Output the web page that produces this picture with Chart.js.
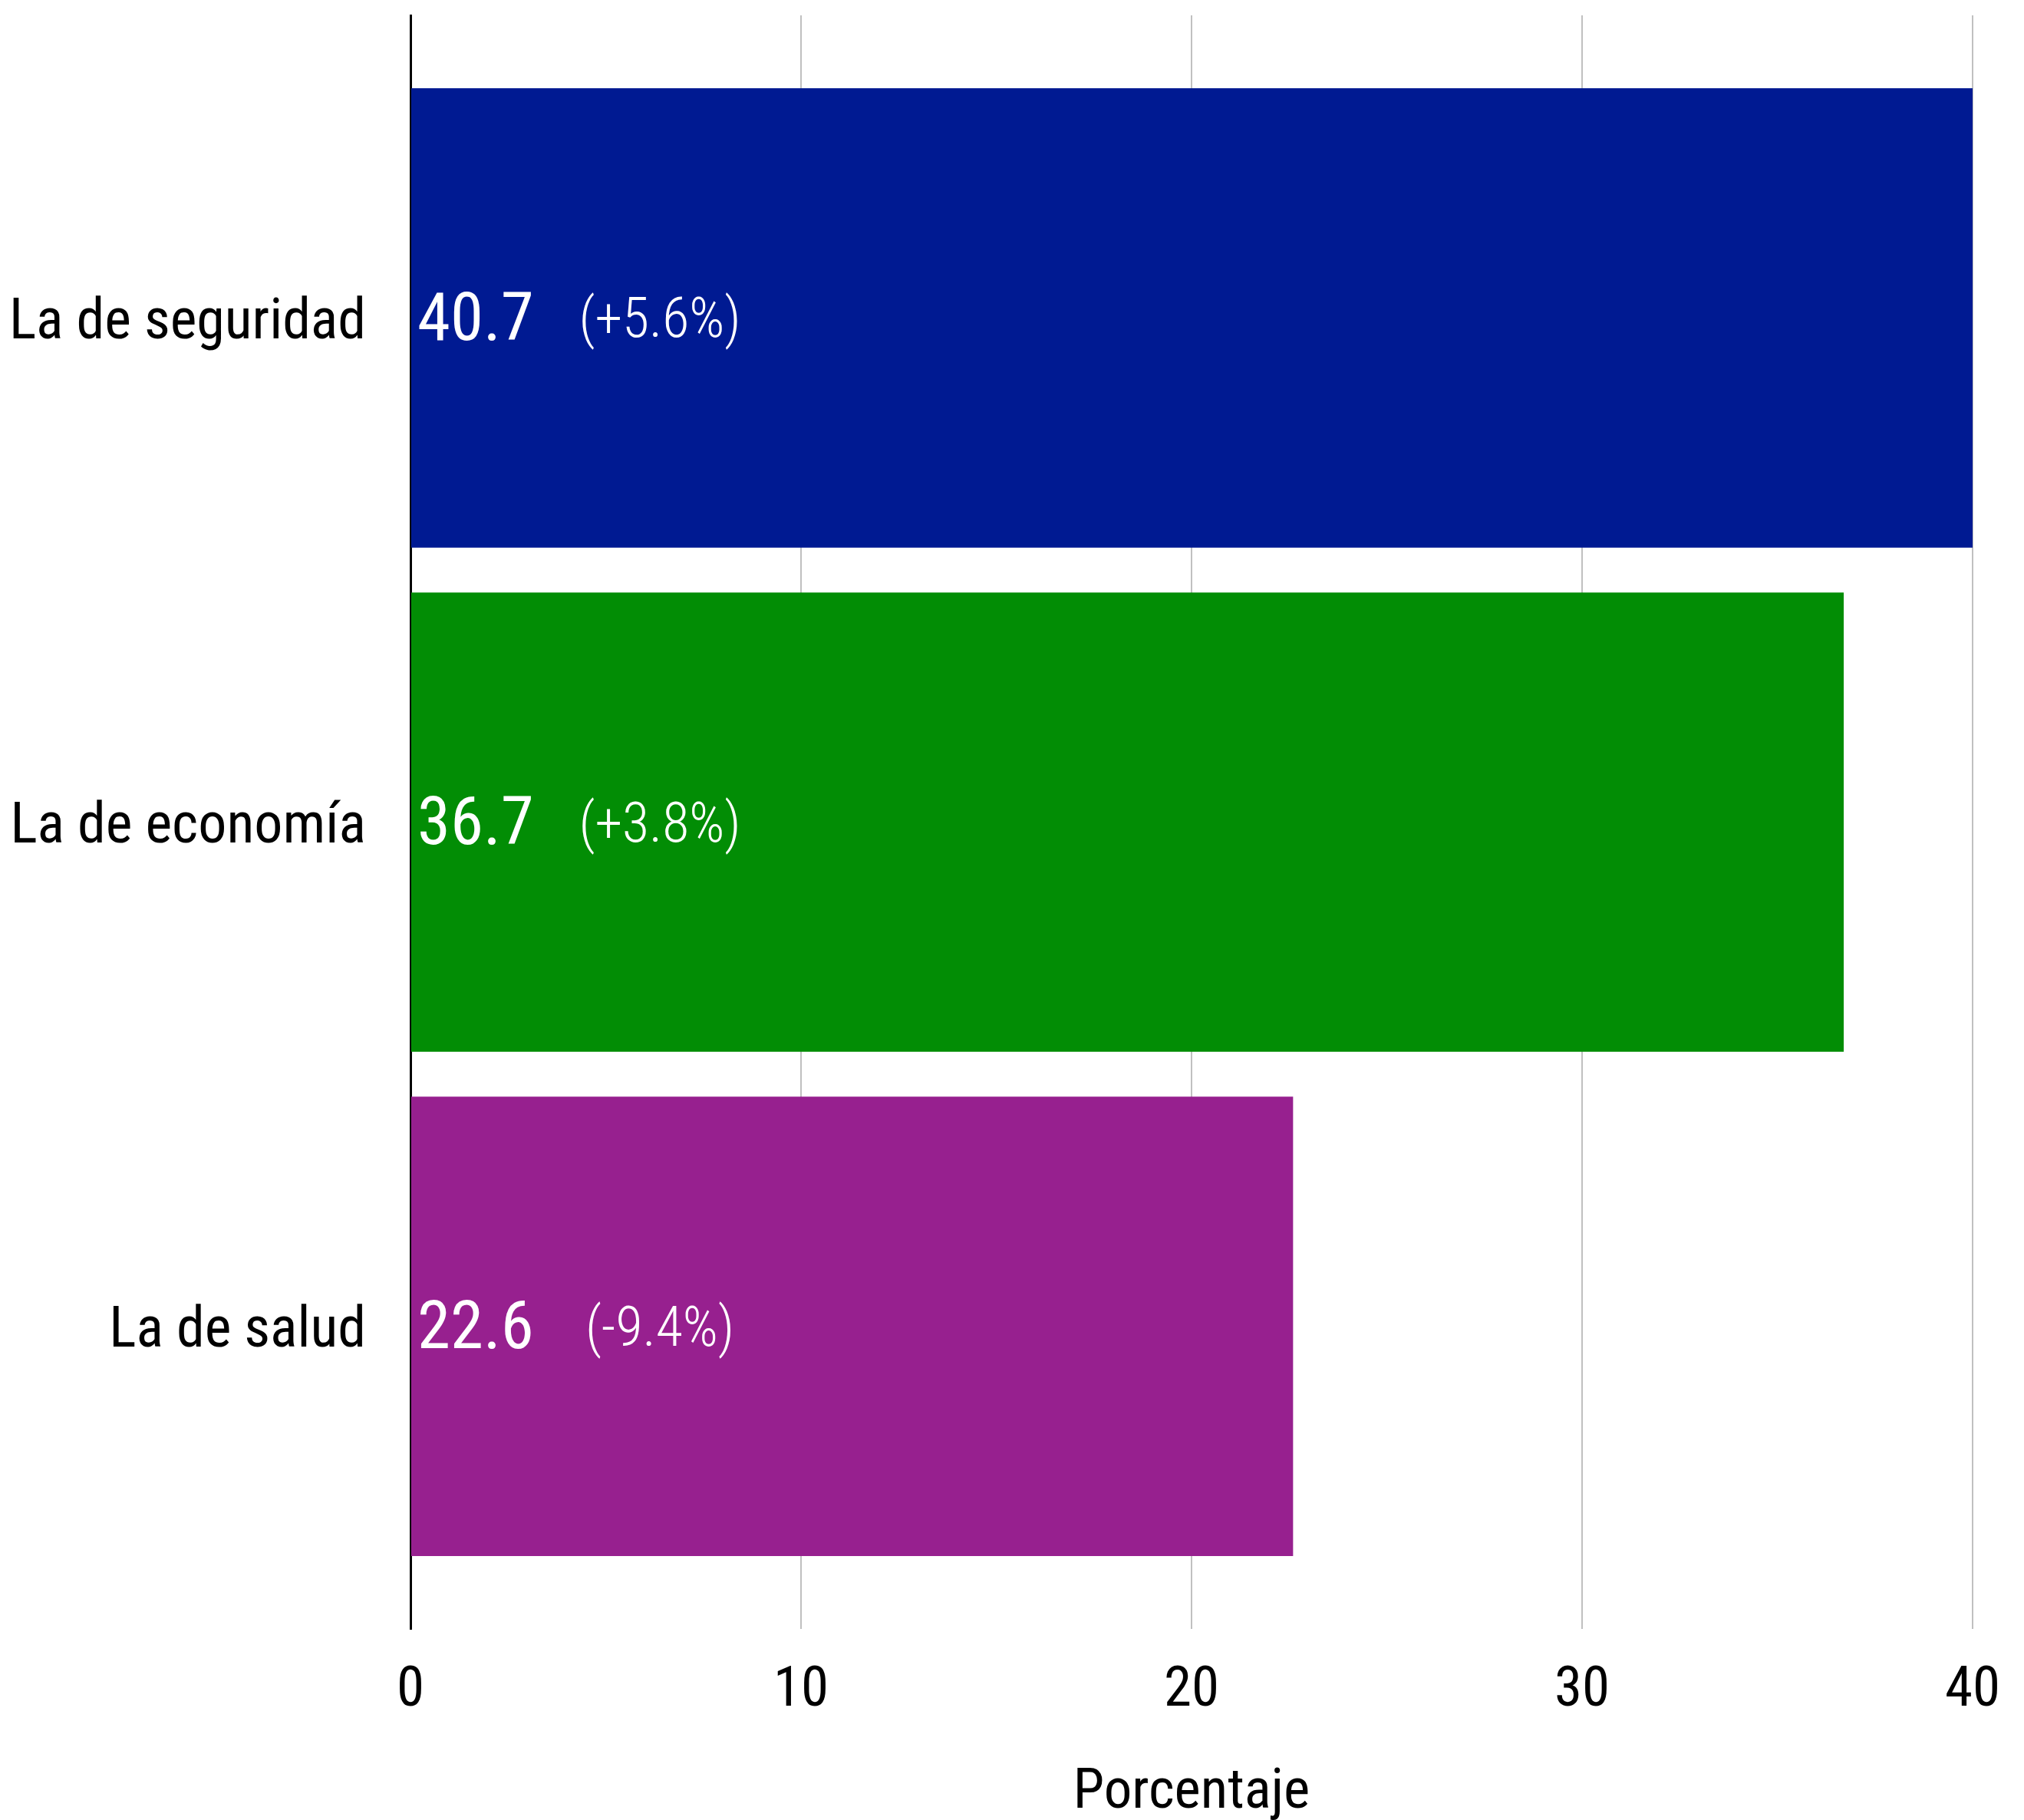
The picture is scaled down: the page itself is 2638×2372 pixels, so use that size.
<!DOCTYPE html>
<html>
<head>
<meta charset="utf-8">
<script src="https://cdn.jsdelivr.net/npm/chart.js@4/dist/chart.umd.min.js"></script>
<style>
    html, body { margin: 0; padding: 0; background: #ffffff; }
    #wrap { width: 2638px; height: 2372px; position: relative; }
</style>
</head>
<body>
<div id="wrap"><canvas id="chart"></canvas></div>
<script>
const categories = ["La de seguridad", "La de economía", "La de salud"];
const values = [40.7, 36.7, 22.6];
const changes = ["(+5.6%)", "(+3.8%)", "(-9.4%)"];
const barColors = ["#001a92", "#028d05", "#97208f"];
const xTicks = [0, 10, 20, 30, 40];

const fontFamily = '"Roboto Condensed", "Liberation Sans Narrow", "Arial Narrow", "DejaVu Sans Condensed", Roboto, sans-serif';

const barLabels = {
    id: "barLabels",
    afterDatasetsDraw(chart) {
        const ctx = chart.ctx;
        const xScale = chart.scales.x;
        const meta = chart.getDatasetMeta(0);
        const x0 = xScale.getPixelForValue(0);
        ctx.save();
        ctx.fillStyle = "#ffffff";
        ctx.textBaseline = "middle";
        meta.data.forEach(function (bar, i) {
            ctx.font = "400 87px " + fontFamily;
            ctx.textAlign = "left";
            ctx.fillText(values[i].toFixed(1), x0 + 9, bar.y + 7);
            ctx.font = "300 72px " + fontFamily;
            ctx.textAlign = "center";
            ctx.fillText(changes[i], x0 + 325, bar.y + 7);
        });
        ctx.restore();
    }
};

new Chart(document.getElementById("chart"), {
    type: "bar",
    plugins: [barLabels],
    data: {
        datasets: [{
            data: values.map(function (v, i) { return { x: v, y: i }; }),
            backgroundColor: barColors,
            borderWidth: 0,
            barPercentage: 0.911,
            categoryPercentage: 1
        }]
    },
    options: {
        indexAxis: "y",
        responsive: true,
        maintainAspectRatio: false,
        animation: false,
        layout: { padding: { top: 20, right: 67, bottom: 0, left: 0 } },
        plugins: {
            legend: { display: false },
            tooltip: { enabled: false }
        },
        scales: {
            x: {
                type: "linear",
                min: 0,
                max: 40,
                afterBuildTicks: function (scale) {
                    scale.ticks = xTicks.map(function (v) { return { value: v }; });
                },
                afterFit: function (scale) {
                    scale.height = 249;
                    scale.paddingLeft = 0;
                    scale.paddingRight = 0;
                },
                grid: { color: "#c0c0c0", lineWidth: 2, drawTicks: false },
                border: { display: false },
                ticks: {
                    padding: 38,
                    color: "#000000",
                    font: { family: fontFamily, size: 73 }
                },
                title: {
                    display: true,
                    text: "Porcentaje",
                    color: "#000000",
                    padding: { top: 0, bottom: -2 },
                    font: { family: fontFamily, size: 73, lineHeight: 1 }
                }
            },
            y: {
                type: "linear",
                min: -0.6,
                max: 2.6,
                reverse: true,
                offset: false,
                afterBuildTicks: function (scale) {
                    scale.ticks = categories.map(function (c, i) { return { value: i }; });
                },
                afterFit: function (scale) {
                    scale.width = 535;
                    scale.paddingTop = 0;
                    scale.paddingBottom = 0;
                },
                grid: { display: false, drawTicks: false, offset: false },
                border: { display: true, color: "#000000", width: 3 },
                ticks: {
                    padding: 58,
                    labelOffset: 8,
                    color: "#000000",
                    font: { family: fontFamily, size: 74 },
                    callback: function (value) { return categories[value]; }
                }
            }
        }
    }
});
</script>
</body>
</html>
